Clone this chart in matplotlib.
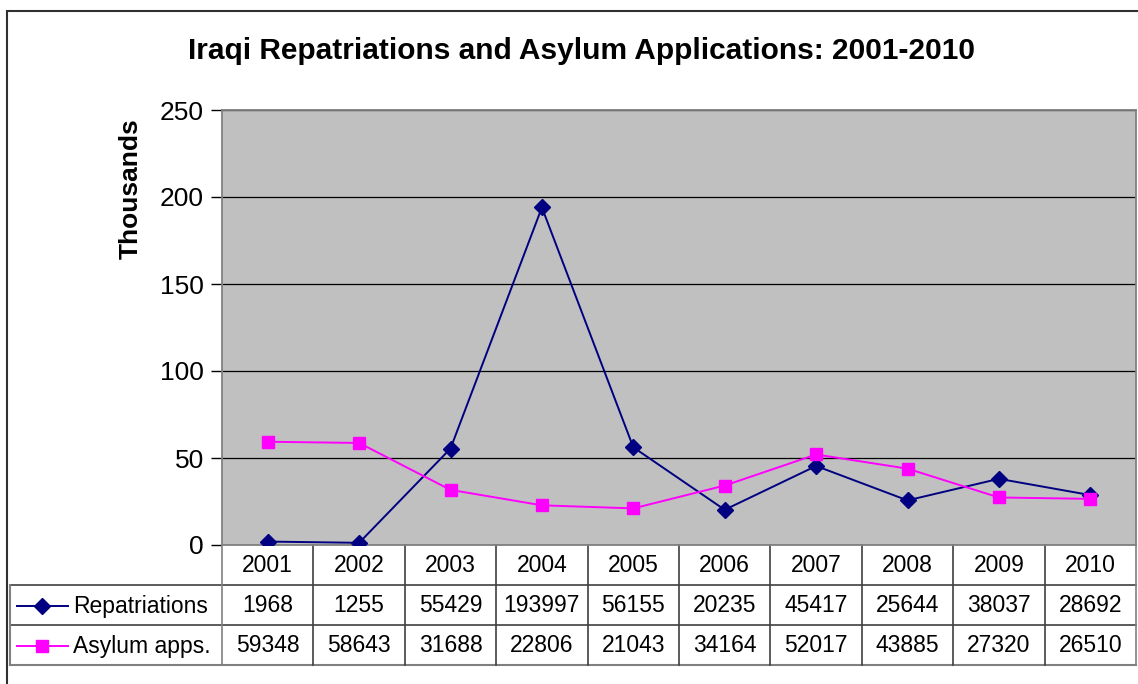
import numpy as np
import matplotlib.pyplot as plt
from matplotlib.lines import Line2D
from matplotlib.patches import Rectangle

plt.rcParams['font.family'] = ['Liberation Sans', 'DejaVu Sans']

years = ['2001', '2002', '2003', '2004', '2005', '2006', '2007', '2008', '2009', '2010']
repatriations = [1968, 1255, 55429, 193997, 56155, 20235, 45417, 25644, 38037, 28692]
asylum_apps = [59348, 58643, 31688, 22806, 21043, 34164, 52017, 43885, 27320, 26510]
series_names = ['Repatriations', 'Asylum apps.']

W, H = 1138, 684
fig = plt.figure(figsize=(W / 100, H / 100), dpi=100)

# outer chart border
fig.add_artist(Rectangle((7 / W, -0.05), 1.2, 1 - 11 / H + 0.05, transform=fig.transFigure,
                         fill=False, edgecolor='#303030', linewidth=1.5))

px_l, px_r, px_t, px_b = 222, 1136, 110, 545
ax = fig.add_axes([px_l / W, 1 - px_b / H, (px_r - px_l) / W, (px_b - px_t) / H])
ax.set_facecolor('#c0c0c0')

x = np.arange(len(years))
rep = np.array(repatriations) / 1000
asy = np.array(asylum_apps) / 1000

ax.plot(x, rep, color='#000080', lw=1.4, marker='D', ms=8.5, zorder=3)
ax.plot(x, asy, color='#ff00ff', lw=1.4, marker='s', ms=8, zorder=3)

ax.set_xlim(-0.5, len(years) - 0.5)
ax.set_ylim(0, 250)
ax.set_yticks([0, 50, 100, 150, 200, 250])
ax.tick_params(axis='y', labelsize=19, length=8, width=1, pad=5, color='black')
ax.set_xticks([])
ax.yaxis.grid(True, color='black', lw=0.9)
ax.set_axisbelow(True)
for s in ax.spines.values():
    s.set_color('#808080')
    s.set_linewidth(1.3)

fig.text(131 / W, 1 - 189 / H, 'Thousands', rotation=90, ha='center', va='center',
         fontsize=19, fontweight='bold')
fig.text(582 / W, 1 - 51 / H, 'Iraqi Repatriations and Asylum Applications: 2001-2010',
         ha='center', va='center', fontsize=21.5, fontweight='bold')

# data table beneath the axes
ph = px_b - px_t
r0, r1, r2, r3 = 0, -40 / ph, -80 / ph, -120 / ph
tr = ax.get_xaxis_transform()
left_x = -0.5 - (px_l - 10) / ((px_r - px_l) / len(years))
lc = '#404040'
ax.add_line(Line2D([left_x, len(years) - 0.5], [r1, r1], transform=tr, color=lc, lw=1.2, clip_on=False))
ax.add_line(Line2D([left_x, len(years) - 0.5], [r2, r2], transform=tr, color=lc, lw=1.2, clip_on=False))
ax.add_line(Line2D([left_x, len(years) - 0.5], [r3, r3], transform=tr, color='#808080', lw=1.5, clip_on=False))
ax.add_line(Line2D([left_x, left_x], [r1, r3], transform=tr, color='#808080', lw=1.5, clip_on=False))
for i in range(len(years) + 1):
    ax.add_line(Line2D([i - 0.5, i - 0.5], [r0, r3], transform=tr,
                       color='#808080' if i in (0, len(years)) else lc, lw=1.2, clip_on=False))

fs = 16.5
for i, yr in enumerate(years):
    ax.text(i, (r0 + r1) / 2, yr, transform=tr, ha='center', va='center', fontsize=fs)
    ax.text(i, (r1 + r2) / 2, str(repatriations[i]), transform=tr, ha='center', va='center', fontsize=fs)
    ax.text(i, (r2 + r3) / 2, str(asylum_apps[i]), transform=tr, ha='center', va='center', fontsize=fs)

# legend keys in the first column
ft = fig.transFigure
for name, ymid, col, mk, ms in [(series_names[0], 606, '#000080', 'D', 8.5),
                               (series_names[1], 646, '#ff00ff', 's', 8)]:
    yy = 1 - ymid / H
    fig.add_artist(Line2D([17 / W, 68 / W], [yy, yy], transform=ft, color=col, lw=1.4))
    fig.add_artist(Line2D([42 / W], [yy], transform=ft, color=col, marker=mk, ms=ms, lw=0))
    fig.text(73 / W, yy, name, ha='left', va='center', fontsize=fs)

fig.savefig('out.png', dpi=100)
